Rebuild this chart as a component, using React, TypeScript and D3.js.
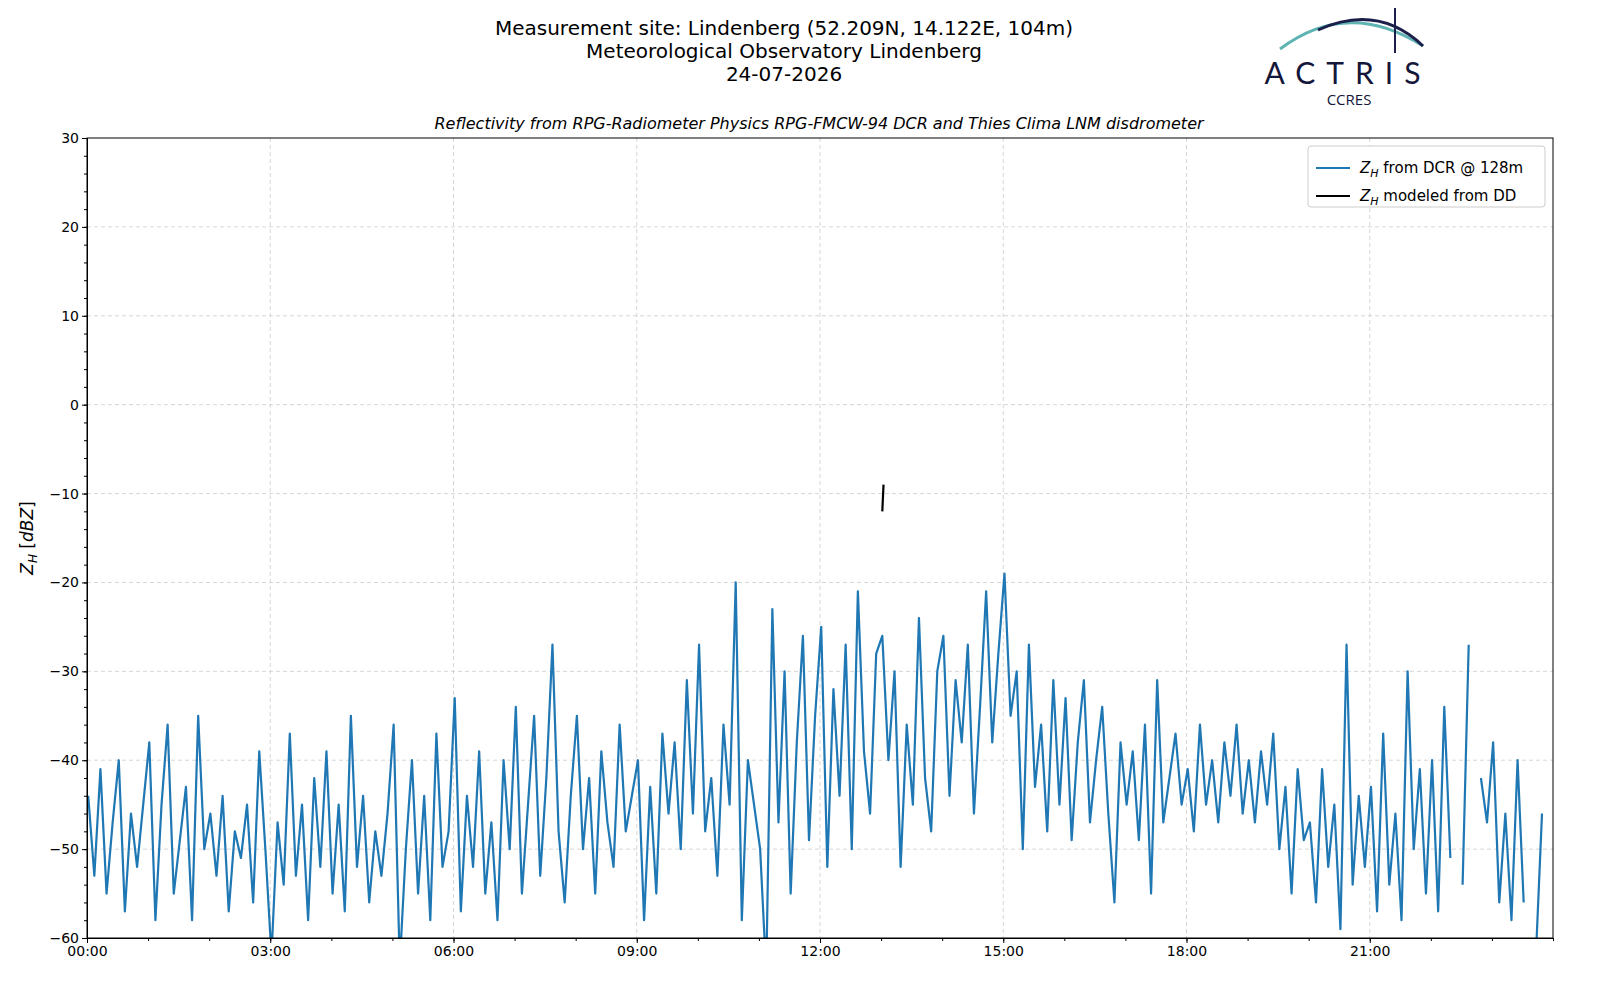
import { useEffect, useRef } from "react";
import * as d3 from "d3";

// DCR reflectivity, 6-minute steps, one row per hour (null = gap)
const dcrValues: (number | null)[] = [
  -44, -53, -41, -55, -47, -40, -57, -46, -52, -45,
  -38, -58, -45, -36, -55, -49, -43, -58, -35, -50,
  -46, -53, -44, -57, -48, -51, -45, -56, -39, -50,
  -62, -47, -54, -37, -53, -45, -58, -42, -52, -39,
  -55, -45, -57, -35, -52, -44, -56, -48, -53, -46,
  -36, -63, -50, -40, -55, -44, -58, -37, -52, -48,
  -33, -57, -44, -52, -39, -55, -47, -58, -40, -50,
  -34, -55, -45, -35, -53, -42, -27, -48, -56, -44,
  -35, -50, -42, -55, -39, -47, -52, -36, -48, -44,
  -40, -58, -43, -55, -37, -46, -38, -50, -31, -46,
  -27, -48, -42, -53, -36, -45, -20, -58, -40, -45,
  -50, -64, -23, -47, -30, -55, -38, -26, -49, -35,
  -25, -52, -32, -44, -27, -50, -21, -39, -46, -28,
  -26, -40, -30, -52, -36, -45, -24, -42, -48, -30,
  -26, -44, -31, -38, -27, -46, -34, -21, -38, -28,
  -19, -35, -30, -50, -27, -43, -36, -48, -31, -45,
  -33, -49, -38, -31, -47, -40, -34, -46, -56, -38,
  -45, -39, -49, -36, -55, -31, -47, -42, -37, -45,
  -41, -48, -36, -45, -40, -47, -38, -44, -36, -46,
  -40, -47, -39, -45, -37, -50, -43, -55, -41, -49,
  -47, -56, -41, -52, -45, -59, -27, -54, -44, -52,
  -43, -57, -37, -54, -46, -58, -30, -50, -41, -55,
  -40, -57, -34, -51, null, -54, -27, null, -42, -47,
  -38, -56, -46, -58, -40, -56, null, -62, -46, null,
];
const stepHours = 0.1;
const ddHours = [13.02, 13.04];
const ddValues = [-12, -9];
const xTickLabels = ["00:00", "03:00", "06:00", "09:00", "12:00", "15:00", "18:00", "21:00"];
const yTicks = [30, 20, 10, 0, -10, -20, -30, -40, -50, -60];

const App = () => {
  const svgRef = useRef<SVGSVGElement | null>(null);
  const width = 1584;
  const height = 984;

  useEffect(() => {
    if (!svgRef.current) return;
    const svg = d3.select(svgRef.current);
    svg.selectAll("*").remove();
    const m = { left: 79, right: 1545, top: 130, bottom: 930 };
    const font = "DejaVu Sans, sans-serif";

    const x = d3.scaleLinear().domain([0, 24]).range([m.left, m.right]);
    const y = d3.scaleLinear().domain([-60, 30]).range([m.bottom, m.top]);

    // grid
    const grid = svg.append("g").attr("stroke", "#cccccc").attr("stroke-dasharray", "4,3").attr("stroke-width", 0.8);
    xTickLabels.forEach((_, i) => {
      if (i === 0) return;
      grid.append("line").attr("x1", x(i * 3)).attr("x2", x(i * 3)).attr("y1", m.top).attr("y2", m.bottom);
    });
    yTicks.forEach((t) => {
      if (t === 30 || t === -60) return;
      grid.append("line").attr("x1", m.left).attr("x2", m.right).attr("y1", y(t)).attr("y2", y(t));
    });

    const clipId = "plotclip";
    svg.append("clipPath").attr("id", clipId).append("rect")
      .attr("x", m.left).attr("y", m.top).attr("width", m.right - m.left).attr("height", m.bottom - m.top);

    const pts = dcrValues.map((v, i) => [i * stepHours + 0.02, v] as [number, number | null]);
    const line = d3.line<[number, number | null]>()
      .defined((d) => d[1] !== null)
      .x((d) => x(d[0]))
      .y((d) => y(d[1] as number));
    svg.append("path").datum(pts).attr("clip-path", `url(#${clipId})`)
      .attr("fill", "none").attr("stroke", "#1f77b4").attr("stroke-width", 2.2)
      .attr("stroke-linejoin", "round").attr("d", line);

    svg.append("path").datum(ddHours.map((h, i) => [h, ddValues[i]] as [number, number]))
      .attr("fill", "none").attr("stroke", "black").attr("stroke-width", 2.2)
      .attr("d", d3.line<[number, number]>().x((d) => x(d[0])).y((d) => y(d[1])));

    // axes
    const xAxis = d3.axisBottom(x).tickValues(d3.range(0, 24, 3))
      .tickFormat((_, i) => xTickLabels[i]).tickSize(5).tickPadding(3);
    const gx = svg.append("g").attr("transform", `translate(0,${m.bottom})`).call(xAxis);
    svg.append("g").attr("transform", `translate(0,${m.bottom})`)
      .call(d3.axisBottom(x).tickValues(d3.range(0, 25, 1)).tickFormat(() => "").tickSize(3));
    const yAxis = d3.axisLeft(y).tickValues(yTicks)
      .tickFormat((d) => (+d < 0 ? "\u2212" + Math.abs(+d) : String(d))).tickSize(5).tickPadding(3);
    const gy = svg.append("g").attr("transform", `translate(${m.left},0)`).call(yAxis);
    svg.append("g").attr("transform", `translate(${m.left},0)`)
      .call(d3.axisLeft(y).tickValues(d3.range(-60, 31, 2)).tickFormat(() => "").tickSize(3));
    [gx, gy].forEach((g) => {
      g.selectAll("text").attr("font-size", 14).attr("font-family", font).attr("fill", "black");
      g.select(".domain").remove();
    });
    svg.append("rect").attr("x", m.left).attr("y", m.top).attr("width", m.right - m.left)
      .attr("height", m.bottom - m.top).attr("fill", "none").attr("stroke", "black").attr("stroke-width", 1);

    // y label
    const yl = svg.append("text").attr("transform", `translate(25,${(m.top + m.bottom) / 2}) rotate(-90)`)
      .attr("text-anchor", "middle").attr("font-family", font).attr("font-size", 17);
    yl.append("tspan").attr("font-style", "italic").text("Z");
    yl.append("tspan").attr("font-style", "italic").attr("font-size", 12).attr("dy", 4).text("H");
    yl.append("tspan").attr("dy", -4).text(" [");
    yl.append("tspan").attr("font-style", "italic").text("dBZ");
    yl.append("tspan").text("]");

    // titles
    const titles = ["Measurement site: Lindenberg (52.209N, 14.122E, 104m)", "Meteorological Observatory Lindenberg", "24-07-2026"];
    titles.forEach((t, i) => {
      svg.append("text").attr("x", 776).attr("y", 27 + i * 23).attr("text-anchor", "middle")
        .attr("font-family", font).attr("font-size", 20).text(t);
    });
    svg.append("text").attr("x", 811).attr("y", 121).attr("text-anchor", "middle")
      .attr("font-family", font).attr("font-style", "italic").attr("font-size", 16)
      .text("Reflectivity from RPG-Radiometer Physics RPG-FMCW-94 DCR and Thies Clima LNM disdrometer");

    // logo
    const logo = svg.append("g");
    logo.append("path").attr("d", "M1272,41 Q1340,-10 1415,38").attr("fill", "none")
      .attr("stroke", "#5fb3b3").attr("stroke-width", 3);
    logo.append("path").attr("d", "M1310,22 Q1370,-5 1415,38").attr("fill", "none")
      .attr("stroke", "#1b1f4a").attr("stroke-width", 3);
    logo.append("line").attr("x1", 1387).attr("x2", 1387).attr("y1", -6).attr("y2", 45)
      .attr("stroke", "#1b1f4a").attr("stroke-width", 2);
    logo.append("text").attr("x", 1340).attr("y", 76).attr("text-anchor", "middle")
      .attr("font-family", "Lato, sans-serif").attr("font-size", 30).attr("letter-spacing", 11)
      .attr("fill", "#14163a").text("ACTRIS");
    logo.append("text").attr("x", 1341).attr("y", 97).attr("text-anchor", "middle")
      .attr("font-family", "Open Sans, sans-serif").attr("font-size", 15).attr("fill", "#14163a").text("CCRES");

    // legend
    const lg = svg.append("g").attr("transform", "translate(1300,138)");
    lg.append("rect").attr("width", 237).attr("height", 61).attr("rx", 3).attr("fill", "white")
      .attr("stroke", "#cccccc");
    const items = [["#1f77b4", " from DCR @ 128m"], ["black", " modeled from DD"]];
    items.forEach(([c, t], i) => {
      const yy = 22 + i * 28;
      lg.append("line").attr("x1", 8).attr("x2", 42).attr("y1", yy).attr("y2", yy)
        .attr("stroke", c).attr("stroke-width", 2.2);
      const tx = lg.append("text").attr("x", 52).attr("y", yy + 5).attr("font-family", font).attr("font-size", 15);
      tx.append("tspan").attr("font-style", "italic").text("Z");
      tx.append("tspan").attr("font-style", "italic").attr("font-size", 11).attr("dy", 4).text("H");
      tx.append("tspan").attr("dy", -4).text(t);
    });
  }, []);

  return <svg ref={svgRef} width={width} height={height} style={{ display: "block" }} />;
};

export default App;
